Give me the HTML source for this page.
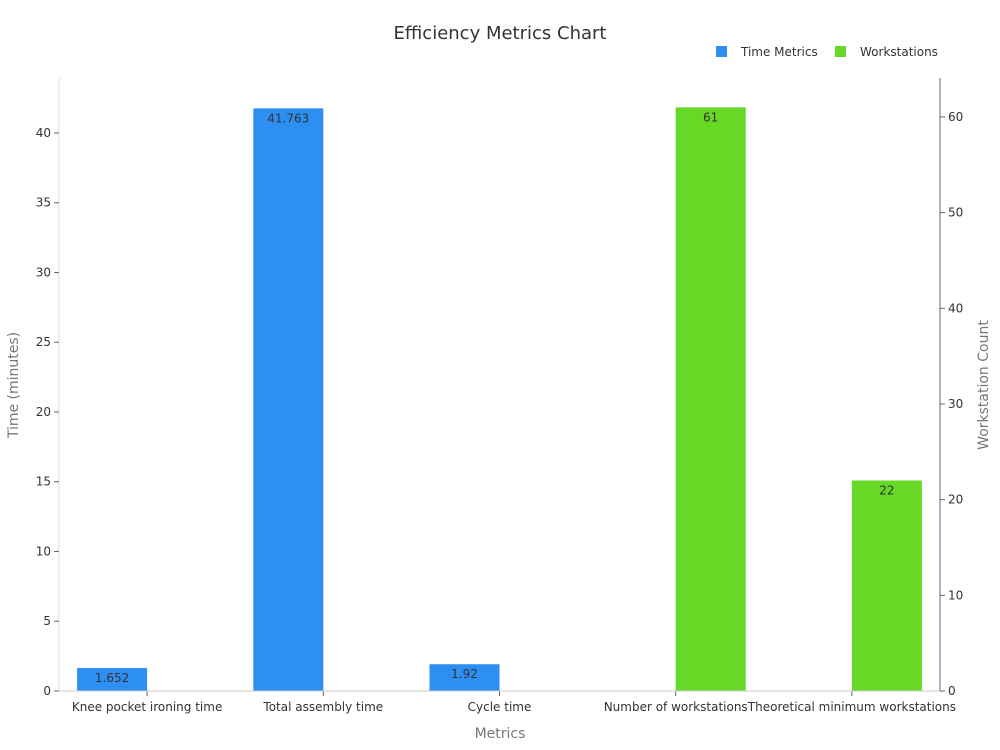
<!DOCTYPE html>
<html><head><meta charset="utf-8"><style>
body{margin:0;background:#fff;}
svg{display:block;font-family:"DejaVu Sans","Liberation Sans",sans-serif;}
</style></head><body>
<svg id="chart" width="1000" height="750">
<text x="500" y="39" text-anchor="middle" font-size="18" fill="#333">Efficiency Metrics Chart</text>
<g>
<rect x="716" y="46" width="11" height="11" fill="#2e8ff2"/>
<text x="741" y="56" font-size="12" fill="#333">Time Metrics</text>
<rect x="835" y="46" width="11" height="11" fill="#66d926"/>
<text x="860" y="56" font-size="12" fill="#333">Workstations</text>
</g>
<text transform="translate(18,385) rotate(-90)" text-anchor="middle" font-size="14" fill="#777">Time (minutes)</text>
<text transform="translate(988,385) rotate(-90)" text-anchor="middle" font-size="14" fill="#777">Workstation Count</text>
<text x="500" y="738" text-anchor="middle" font-size="14" fill="#777">Metrics</text>
<g id="plot"></g>
</svg>
<script>
const categories=["Knee pocket ironing time","Total assembly time","Cycle time","Number of workstations","Theoretical minimum workstations"];
const timeValues=[1.652,41.763,1.92,null,null];
const workstationValues=[null,null,null,61,22];
const leftTicks=[0,5,10,15,20,25,30,35,40];
const rightTicks=[0,10,20,30,40,50,60];
const NS="http://www.w3.org/2000/svg";
const X0=59,X1=940,Y0=691,Y1=78;
const leftMax=43.94,rightMax=64.07;
const band=(X1-X0)/categories.length;
const xc=i=>X0+band*(i+0.5);
const yL=v=>Y0-(v/leftMax)*(Y0-Y1);
const yR=v=>Y0-(v/rightMax)*(Y0-Y1);
const g=document.getElementById('plot');
function mk(t,a){const e=document.createElementNS(NS,t);for(const k in a)e.setAttribute(k,a[k]);g.appendChild(e);return e;}
let e;
e=mk('line',{x1:X0,y1:Y1,x2:X0,y2:Y0,stroke:'#ddd'});


e=mk('line',{x1:X1,y1:Y1,x2:X1,y2:Y0,stroke:'#666'});


leftTicks.forEach(v=>{
 mk('line',{x1:X0-5,x2:X0,y1:yL(v),y2:yL(v),stroke:'#666'});
 e=mk('text',{x:X0-8,y:yL(v)+4,'text-anchor':'end','font-size':12,fill:'#333'});e.textContent=v;
 
 
});
rightTicks.forEach(v=>{
 mk('line',{x1:X1,x2:X1+5,y1:yR(v),y2:yR(v),stroke:'#666'});
 e=mk('text',{x:X1+8,y:yR(v)+4,'font-size':12,fill:'#333'});e.textContent=v;
 
 
});
const BW=70;
categories.forEach((c,i)=>{
 const cx=xc(i);
 if(timeValues[i]!=null){
  const y=yL(timeValues[i]);
  e=mk('rect',{x:cx-BW,y:y,width:BW,height:Y0-y,fill:'#2e8ff2'});
  
  
  e=mk('text',{x:cx-BW/2,y:y+14,'text-anchor':'middle','font-size':12,fill:'#333'});e.textContent=timeValues[i];
  
  
 }
 if(workstationValues[i]!=null){
  const y=yR(workstationValues[i]);
  e=mk('rect',{x:cx,y:y,width:BW,height:Y0-y,fill:'#66d926'});
  
  
  e=mk('text',{x:cx+BW/2,y:y+14,'text-anchor':'middle','font-size':12,fill:'#333'});e.textContent=workstationValues[i];
  
  
 }
 mk('line',{x1:cx,x2:cx,y1:Y0,y2:Y0+5,stroke:'#666'});
 e=mk('text',{x:cx,y:Y0+20,'text-anchor':'middle','font-size':12,fill:'#333'});e.textContent=c;
 
 
});
e=mk('line',{x1:X0,y1:Y0,x2:X1,y2:Y0,stroke:'#ccc'});


</script>
</body></html>
